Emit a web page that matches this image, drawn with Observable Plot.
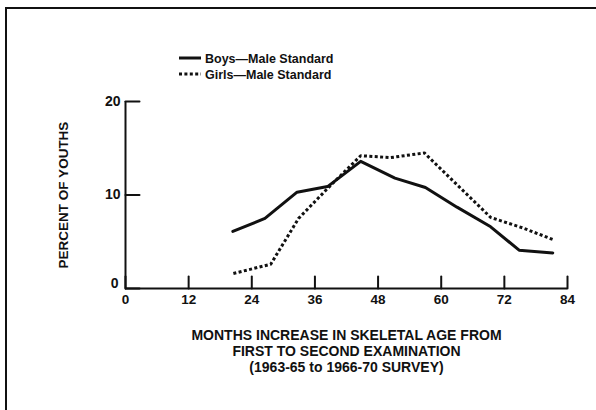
<!DOCTYPE html>
<html><head><meta charset="utf-8">
<script src="https://cdn.jsdelivr.net/npm/d3@7"></script>
<script src="https://cdn.jsdelivr.net/npm/@observablehq/plot@0.6"></script>
<style>
html,body{margin:0;padding:0;background:#fff;}
#wrap{position:relative;width:596px;height:410px;overflow:hidden;font-family:"Liberation Sans",Arial,sans-serif;color:#111;}
#wrap svg.plot{position:absolute;left:0;top:0;}
#frame{position:absolute;left:5px;top:7px;width:600px;height:420px;border-top:2px solid #111;border-left:2px solid #111;z-index:3;pointer-events:none;}
#legend{position:absolute;left:0;top:0;z-index:2;}
</style></head><body>
<div id="wrap"><div id="frame"></div></div>
<script>
// Data
const boysMonths  = [20.4, 26.5, 32.6, 38.4, 44.7, 51.2, 57.0, 63.0, 69.4, 74.8, 81.2];
const boysPct     = [6.1, 7.5, 10.3, 10.9, 13.6, 11.8, 10.8, 8.7, 6.6, 4.1, 3.8];
const girlsMonths = [20.5, 27.6, 32.9, 38.4, 44.7, 50.4, 56.8, 63.0, 69.4, 75.4, 81.4];
const girlsPct    = [1.6, 2.6, 7.5, 10.7, 14.2, 14.0, 14.5, 11.1, 7.6, 6.5, 5.2];
const seriesNames = ["Boys\u2014Male Standard", "Girls\u2014Male Standard"];
const xTicks = [0, 12, 24, 36, 48, 60, 72, 84];
const yTicks = [0, 10, 20];
const yLabel = "PERCENT OF YOUTHS";
const xLabelLines = ["MONTHS INCREASE IN SKELETAL AGE FROM", "FIRST TO SECOND EXAMINATION", "(1963-65 to 1966-70 SURVEY)"];

const ink = "#111";
const dotted = "3,2.4";
const boysData = boysMonths.map((m, i) => ({month: m, pct: boysPct[i], series: seriesNames[0]}));
const girlsData = girlsMonths.map((m, i) => ({month: m, pct: girlsPct[i], series: seriesNames[1]}));
const tickShape = {draw(context, l) { context.moveTo(0, 0); context.lineTo(0, -l); }};

const chart = Plot.plot({
  width: 596,
  height: 410,
  marginLeft: 125,
  marginRight: 29,
  marginTop: 101,
  marginBottom: 122,
  style: {background: "transparent", fontFamily: "'Liberation Sans', Arial, sans-serif", color: ink},
  x: {domain: [0, 84]},
  y: {domain: [0, 20]},
  marks: [
    Plot.ruleY([0], {stroke: ink, strokeWidth: 2}),
    Plot.ruleX([0], {stroke: ink, strokeWidth: 2}),
    Plot.vector(xTicks, {x: d => d, y: 0, length: 12, rotate: 0, anchor: "start", shape: tickShape, stroke: ink, strokeWidth: 2}),
    Plot.vector(yTicks, {x: 0, y: d => d, length: 14, rotate: 90, anchor: "start", shape: tickShape, stroke: ink, strokeWidth: 2}),
    Plot.axisX(xTicks, {tickSize: 0, tickPadding: 6, fontSize: 13.5, fontWeight: "bold", label: null, fill: ink}),
    Plot.axisY(yTicks.filter(d => d > 0), {tickSize: 0, tickPadding: 5, fontSize: 14, fontWeight: "bold", label: null, fill: ink}),
    Plot.axisY(yTicks.filter(d => d === 0), {tickSize: 0, tickPadding: 7, dy: -5, fontSize: 14, fontWeight: "bold", label: null, fill: ink}),
    Plot.text([yLabel], {text: d => d, frameAnchor: "left", textAnchor: "middle", rotate: -90, dx: -62, fontSize: 13.5, fontWeight: "bold", fill: ink}),
    Plot.text([xLabelLines.join("\n")], {text: d => d, frameAnchor: "bottom", lineAnchor: "top", dy: 40, lineHeight: 1.14, fontSize: 14, fontWeight: "bold", fill: ink}),
    Plot.line(boysData, {x: "month", y: "pct", stroke: ink, strokeWidth: 3, strokeLinejoin: "round"}),
    Plot.line(girlsData, {x: "month", y: "pct", stroke: ink, strokeWidth: 3, strokeDasharray: dotted, strokeLinecap: "butt", strokeLinejoin: "miter"})
  ]
});
document.getElementById("wrap").appendChild(chart);

// Legend
const lg = d3.select("#wrap").append("svg").attr("id", "legend").attr("width", 596).attr("height", 95);
const dashes = [null, dotted];
seriesNames.forEach((name, i) => {
  const y = 58 + i * 16;
  lg.append("line").attr("x1", 179).attr("x2", 201).attr("y1", y).attr("y2", y)
    .attr("stroke", ink).attr("stroke-width", 3).attr("stroke-dasharray", dashes[i]);
  lg.append("text").attr("x", 205).attr("y", y).attr("dy", "0.36em")
    .attr("font-size", 12.5).attr("font-weight", "bold").attr("fill", ink)
    .attr("font-family", "'Liberation Sans', Arial, sans-serif").text(name);
});
</script>
</body></html>
